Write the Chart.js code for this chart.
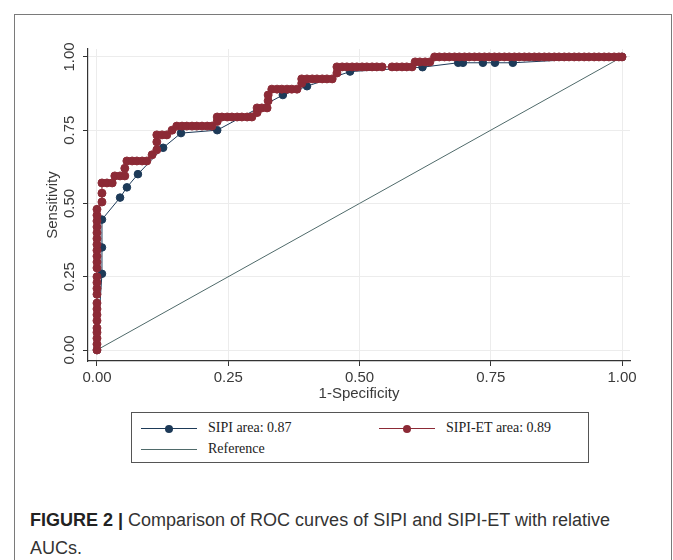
<!DOCTYPE html>
<html>
<head>
<meta charset="utf-8">
<script src="https://cdn.jsdelivr.net/npm/chart.js@4.4.1/dist/chart.umd.min.js"></script>
<style>
  html, body { margin: 0; padding: 0; background: #fff; }
  #wrap { position: relative; width: 673px; height: 560px; overflow: hidden; background: #fff; }
  #frame { position: absolute; left: 14px; top: 14px; width: 658px; height: 620px; border: 1.5px solid #7a7a7a; box-sizing: border-box; }
  #roc { position: absolute; left: 0; top: 0; }
  #legend { position: absolute; left: 131px; top: 412px; width: 458px; height: 51px; border: 1.5px solid #555; box-sizing: border-box;
            font-family: "Liberation Serif", serif; font-size: 14px; color: #222; }
  .txt { position: absolute; line-height: 16px; white-space: nowrap; }
  .ln { position: absolute; height: 0; border-top: 1px solid; }
  .dot { position: absolute; width: 8px; height: 8px; border-radius: 50%; }
  #caption { position: absolute; left: 30px; top: 506px; font-family: "Liberation Sans", Arial, sans-serif; font-size: 18px;
             line-height: 28px; color: #333; white-space: nowrap; }
  #caption b { color: #222; }
</style>
</head>
<body>
<div id="wrap">
  <div id="frame"></div>
  <canvas id="roc" width="673" height="410"></canvas>
  <div id="legend"></div>
  <div id="caption"><b>FIGURE 2 |</b> Comparison of ROC curves of SIPI and SIPI-ET with relative<br>AUCs.</div>
</div>
<script>
// tick values on both axes
const tickValues = [0, 0.25, 0.5, 0.75, 1];

// SIPI (blue)
const sipiFpr = [0, 0.0095, 0.0095, 0.0095, 0.044, 0.057, 0.078, 0.126, 0.16, 0.229, 0.354, 0.40, 0.482, 0.62,
                 0.688, 0.697, 0.735, 0.758, 0.792, 1];
const sipiTpr = [0, 0.26, 0.35, 0.445, 0.52, 0.555, 0.60, 0.69, 0.74, 0.75, 0.87, 0.90, 0.95, 0.965,
                 0.98, 0.98, 0.98, 0.98, 0.98, 1];

// SIPI-ET (red), one entry per marker
const etFpr = [0, 0, 0, 0, 0, 0, 0, 0, 0, 0, 0, 0, 0, 0, 0, 0, 0, 0, 0, 0, 0, 0, 0, 0,
               0.0095, 0.0095, 0.0095, 0.019, 0.029, 0.034, 0.044, 0.053, 0.053, 0.057, 0.067, 0.076, 0.086, 0.095,
               0.105, 0.114, 0.114, 0.114, 0.124, 0.133, 0.143, 0.152, 0.162, 0.171, 0.181, 0.19, 0.20, 0.21, 0.219,
               0.229, 0.229, 0.238, 0.248, 0.257, 0.267, 0.276, 0.286, 0.295, 0.305, 0.305, 0.314, 0.324,
               0.326, 0.326, 0.333, 0.343, 0.352, 0.362, 0.371, 0.381, 0.39, 0.39, 0.40, 0.41, 0.419, 0.429,
               0.438, 0.448, 0.457, 0.457, 0.467, 0.476, 0.486, 0.495, 0.505, 0.514, 0.524, 0.533, 0.543,
               0.562, 0.571, 0.581, 0.59, 0.60, 0.606, 0.615, 0.625, 0.634,
               0.643, 0.652, 0.662, 0.671, 0.681, 0.69, 0.70, 0.709, 0.719, 0.728, 0.738, 0.747, 0.757, 0.766,
               0.776, 0.785, 0.795, 0.804, 0.814, 0.823, 0.833, 0.842, 0.852, 0.861, 0.871, 0.88, 0.89, 0.899,
               0.909, 0.918, 0.928, 0.937, 0.947, 0.956, 0.966, 0.975, 0.985, 0.994, 1];
const etTpr = [0, 0.02, 0.04, 0.06, 0.075, 0.10, 0.12, 0.14, 0.16, 0.19, 0.21, 0.23, 0.25, 0.28, 0.30, 0.32,
               0.34, 0.36, 0.38, 0.40, 0.42, 0.44, 0.46, 0.48,
               0.505, 0.535, 0.57, 0.57, 0.57, 0.594, 0.594, 0.594, 0.62, 0.645, 0.645, 0.645, 0.645, 0.645,
               0.666, 0.683, 0.71, 0.734, 0.734, 0.734, 0.75, 0.764, 0.764, 0.764, 0.764, 0.764, 0.764, 0.764, 0.764,
               0.78, 0.795, 0.795, 0.795, 0.795, 0.795, 0.795, 0.795, 0.795, 0.81, 0.826, 0.826, 0.826,
               0.85, 0.87, 0.89, 0.89, 0.89, 0.89, 0.89, 0.89, 0.91, 0.925, 0.925, 0.925, 0.925, 0.925,
               0.925, 0.925, 0.945, 0.966, 0.966, 0.966, 0.966, 0.966, 0.966, 0.966, 0.966, 0.966, 0.966,
               0.966, 0.966, 0.966, 0.966, 0.966, 0.983, 0.983, 0.983, 0.983,
               1, 1, 1, 1, 1, 1, 1, 1, 1, 1, 1, 1, 1, 1,
               1, 1, 1, 1, 1, 1, 1, 1, 1, 1, 1, 1, 1, 1,
               1, 1, 1, 1, 1, 1, 1, 1, 1, 1, 1];

// chance line
const refX = [0, 1];
const refY = [0, 1];

const RED = '#8c2a36';
const BLUE = '#1d3a58';
const REF = '#4f6a6a';
const FONT = '"Liberation Sans", Arial, sans-serif';

function pts(xs, ys) {
    return xs.map((x, i) => ({ x: x, y: ys[i] }));
}

// y tick labels are drawn rotated, reading upwards
const yTickLabels = {
    id: 'yTickLabels',
    afterDraw(chart) {
        const ctx = chart.ctx;
        const y = chart.scales.y;
        ctx.save();
        ctx.font = '15px ' + FONT;
        ctx.fillStyle = '#3a3a3a';
        ctx.textAlign = 'center';
        ctx.textBaseline = 'middle';
        tickValues.forEach(v => {
            ctx.save();
            ctx.translate(70, y.getPixelForValue(v));
            ctx.rotate(-Math.PI / 2);
            ctx.fillText(v.toFixed(2), 0, 0);
            ctx.restore();
        });
        ctx.restore();
    }
};

const setTicks = s => { s.ticks = tickValues.map(v => ({ value: v })); };

new Chart(document.getElementById('roc').getContext('2d'), {
    type: 'scatter',
    data: {
        datasets: [{
            label: 'SIPI-ET area: 0.89',
            data: pts(etFpr, etTpr),
            showLine: true,
            borderColor: RED,
            borderWidth: 1,
            backgroundColor: RED,
            pointBackgroundColor: RED,
            pointBorderColor: RED,
            pointBorderWidth: 1,
            pointRadius: 4,
            order: 0
        }, {
            label: 'SIPI area: 0.87',
            data: pts(sipiFpr, sipiTpr),
            showLine: true,
            borderColor: BLUE,
            borderWidth: 1,
            backgroundColor: BLUE,
            pointBackgroundColor: BLUE,
            pointBorderColor: BLUE,
            pointBorderWidth: 1,
            pointRadius: 3.8,
            order: 1
        }, {
            label: 'Reference',
            data: pts(refX, refY),
            showLine: true,
            borderColor: REF,
            borderWidth: 1,
            pointRadius: 0,
            order: 2
        }]
    },
    options: {
        responsive: false,
        animation: false,
        layout: { padding: { left: 0, right: 43, top: 49, bottom: 0 } },
        plugins: {
            legend: { display: false },
            tooltip: { enabled: false }
        },
        scales: {
            x: {
                type: 'linear',
                min: -0.0171,
                max: 1.0152,
                afterBuildTicks: setTicks,
                afterFit: s => { s.height = 49; },
                grid: { color: '#ececec', tickColor: '#333', tickLength: 5 },
                border: { color: '#333', width: 1.2 },
                ticks: {
                    color: '#3a3a3a',
                    font: { family: FONT, size: 15 },
                    padding: 3,
                    maxRotation: 0,
                    callback: v => v.toFixed(2)
                },
                title: {
                    display: true,
                    text: '1-Specificity',
                    color: '#3a3a3a',
                    font: { family: FONT, size: 15 },
                    padding: { top: 0, bottom: 7 }
                }
            },
            y: {
                type: 'linear',
                min: -0.0375,
                max: 1.027,
                afterBuildTicks: setTicks,
                afterFit: s => { s.width = 88; },
                grid: { color: '#ececec', tickColor: '#333', tickLength: 5 },
                border: { color: '#333', width: 1.2 },
                ticks: { display: false },
                title: {
                    display: true,
                    text: 'Sensitivity',
                    color: '#3a3a3a',
                    font: { family: FONT, size: 15 },
                    padding: { top: 44, bottom: 0 }
                }
            }
        }
    },
    plugins: [yTickLabels]
});

// legend box, drawn as html
const legendItems = [
    { text: 'SIPI area: 0.87', color: BLUE, dot: true, left: 9, top: 15 },
    { text: 'SIPI-ET area: 0.89', color: RED, dot: true, left: 247, top: 15 },
    { text: 'Reference', color: REF, dot: false, left: 9, top: 36 }
];
const legendEl = document.getElementById('legend');
legendItems.forEach(it => {
    const ln = document.createElement('div');
    ln.className = 'ln';
    ln.style.left = it.left + 'px';
    ln.style.width = '56px';
    ln.style.top = it.top + 'px';
    ln.style.borderTopColor = it.color;
    legendEl.appendChild(ln);
    if (it.dot) {
        const d = document.createElement('div');
        d.className = 'dot';
        d.style.left = (it.left + 24) + 'px';
        d.style.top = (it.top - 3.5) + 'px';
        d.style.background = it.color;
        legendEl.appendChild(d);
    }
    const t = document.createElement('div');
    t.className = 'txt';
    t.textContent = it.text;
    t.style.left = (it.left + 67) + 'px';
    t.style.top = (it.top - 8) + 'px';
    legendEl.appendChild(t);
});
</script>
</body>
</html>
